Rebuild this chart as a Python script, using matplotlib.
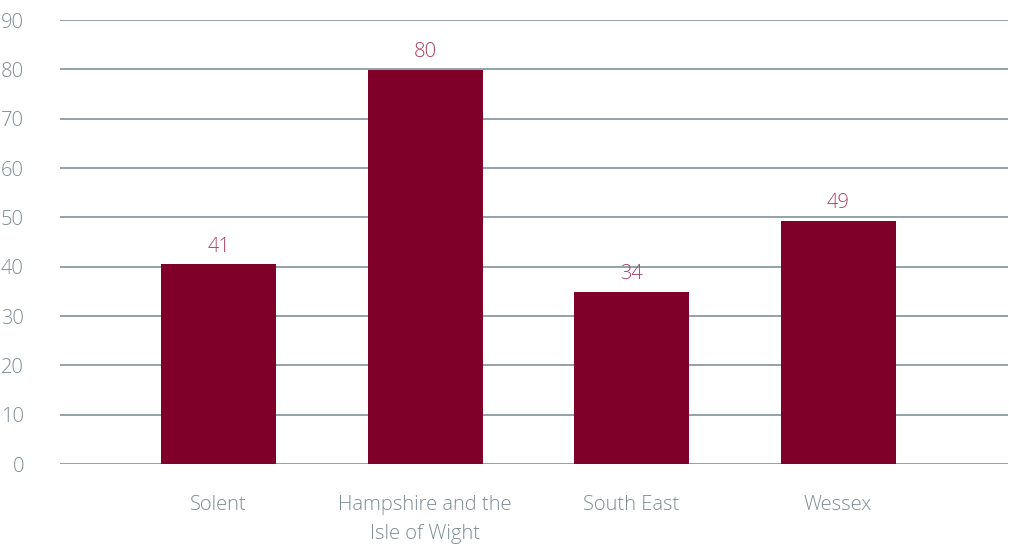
import matplotlib
matplotlib.use("Agg")
import matplotlib.pyplot as plt

# data
regions = ["Solent", "Hampshire and the\nIsle of Wight", "South East", "Wessex"]
values = [40.5, 79.9, 34.9, 49.3]
value_labels = ["41", "80", "34", "49"]
y_ticks = [0, 10, 20, 30, 40, 50, 60, 70, 80, 90]

bar_col = "#7f0029"
lab_col = "#a8405f"
txt_col = "#7d8c92"
grid_col = "#93a2a8"

plt.rcParams['font.family'] = ['Open Sans', 'DejaVu Sans']

fig = plt.figure(figsize=(10.09, 5.44), dpi=100)
ax = fig.add_axes([60 / 1009, 80 / 544, 948 / 1009, 444 / 544])

x = range(len(regions))
bars = ax.bar(x, values, width=0.557, color=bar_col, zorder=3)

for b, lab in zip(bars, value_labels):
    ax.text(b.get_x() + b.get_width() / 2, b.get_height() + 1.5, lab,
            ha="center", va="bottom", color=lab_col, fontsize=14.5, fontweight="light")

ax.set_xlim(-0.768, 3.823)
ax.set_ylim(0, 90)
ax.set_yticks(y_ticks)
ax.set_xticks(list(x))
ax.set_xticklabels(regions, linespacing=1.65)
ax.tick_params(axis="y", length=0, pad=26, labelsize=14.5, labelcolor=txt_col)
ax.tick_params(axis="x", length=0, pad=22, labelsize=14.5, labelcolor=txt_col)
for t in ax.get_yticklabels() + ax.get_xticklabels():
    t.set_fontweight("light")

ax.grid(axis="y", color=grid_col, lw=1.4, zorder=0)
for s in ax.spines.values():
    s.set_visible(False)

fig.savefig("out.png", dpi=100)
